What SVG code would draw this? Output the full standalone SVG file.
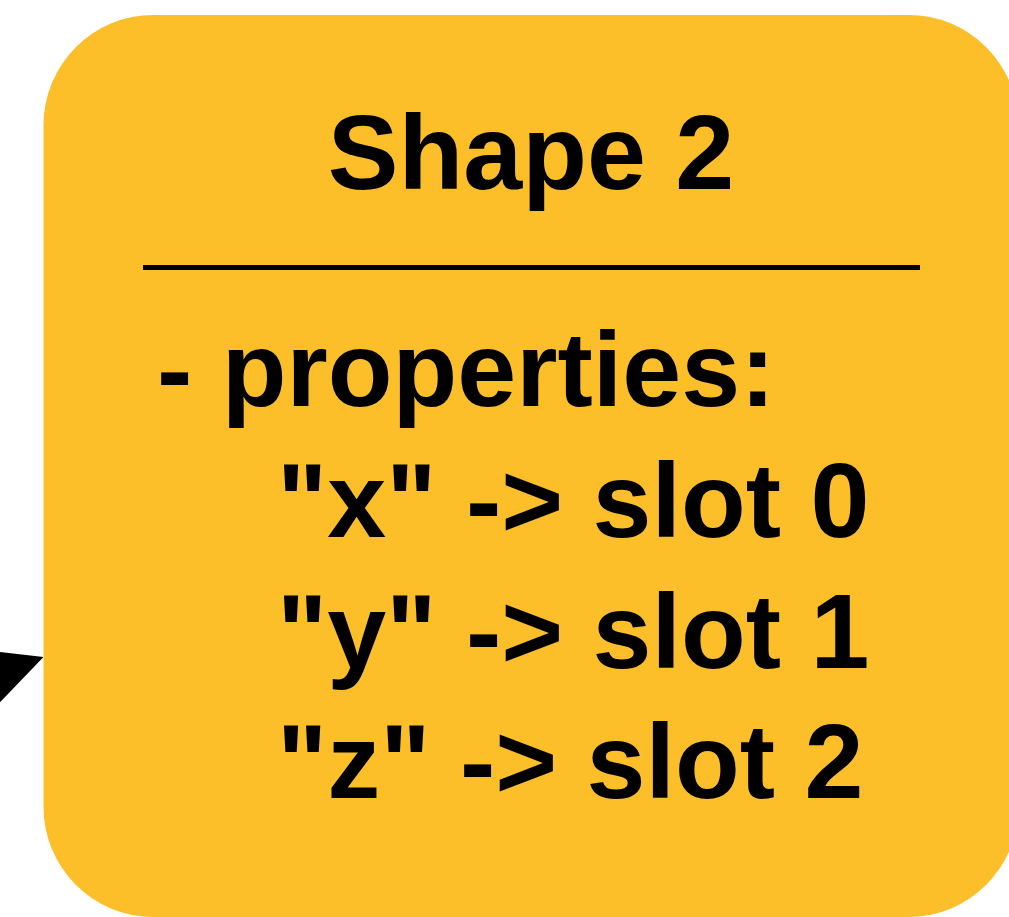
<svg xmlns="http://www.w3.org/2000/svg" width="1009" height="917" viewBox="0 0 1009 917">
  <style>
    .t { font-family: "Liberation Sans", Arial, Helvetica, sans-serif; font-weight: bold; font-size: 106px; fill: #000; }
  </style>
  <rect width="1009" height="917" fill="#ffffff"/>
  <g id="connectors">
    <polygon points="-20,649.7 43.5,657 -20,723" fill="#000"/>
  </g>
  <g id="shape2">
    <rect x="43.5" y="15" width="975" height="902" rx="110" ry="110" fill="#FCBF29"/>
    <text class="t" x="531" y="189" text-anchor="middle">Shape 2</text>
    <line x1="143" y1="267.5" x2="920" y2="267.5" stroke="#000" stroke-width="5"/>
    <text class="t" x="157" y="406">- properties:</text>
    <text class="t" x="277" y="537">"x" -&gt; slot 0</text>
    <text class="t" x="277" y="668">"y" -&gt; slot 1</text>
    <text class="t" x="277" y="798">"z" -&gt; slot 2</text>
  </g>
</svg>
